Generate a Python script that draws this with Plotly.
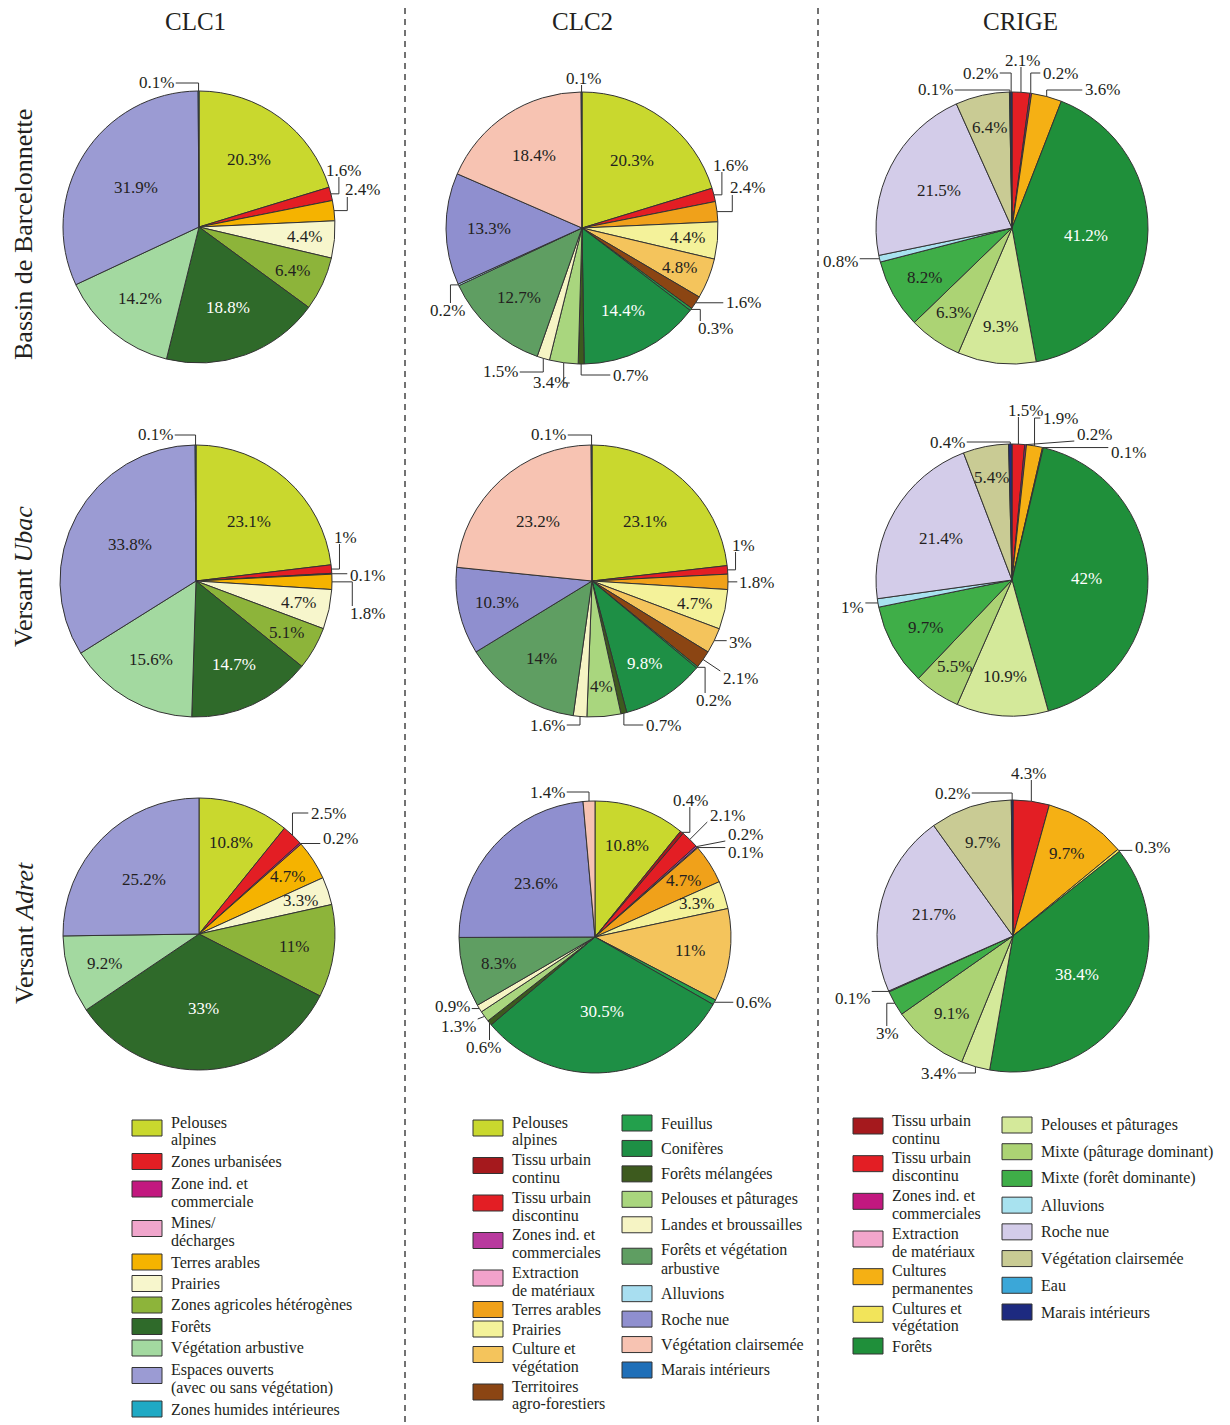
import math
import plotly.graph_objects as go

W, H = 1230, 1425

# ======================= DATA =======================
# Category names ("|" marks a line break in the legend)
CLC1_CATS = ["Pelouses|alpines", "Zones urbanisées", "Zone ind. et|commerciale", "Mines/|décharges",
             "Terres arables", "Prairies", "Zones agricoles hétérogènes", "Forêts",
             "Végétation arbustive", "Espaces ouverts|(avec ou sans végétation)",
             "Zones humides intérieures"]
CLC1_BASSIN = [20.3, 1.6, 0, 0, 2.4, 4.4, 6.4, 18.8, 14.2, 31.9, 0.1]
CLC1_UBAC = [23.1, 1.0, 0.1, 0, 1.8, 4.7, 5.1, 14.7, 15.6, 33.8, 0.1]
CLC1_ADRET = [10.8, 2.5, 0.2, 0, 4.7, 3.3, 11.0, 33.0, 9.2, 25.2, 0]

CLC2_CATS = ["Pelouses|alpines", "Tissu urbain|continu", "Tissu urbain|discontinu",
             "Zones ind. et|commerciales", "Extraction|de matériaux", "Terres arables", "Prairies",
             "Culture et|végétation", "Territoires|agro-forestiers", "Feuillus", "Conifères",
             "Forêts mélangées", "Pelouses et pâturages", "Landes et broussailles",
             "Forêts et végétation|arbustive", "Alluvions", "Roche nue", "Végétation clairsemée",
             "Marais intérieurs"]
CLC2_BASSIN = [20.3, 0, 1.6, 0, 0, 2.4, 4.4, 4.8, 1.6, 0.3, 14.4, 0.7, 3.4, 1.5, 12.7, 0.2, 13.3, 18.4, 0.1]
CLC2_UBAC = [23.1, 0, 1.0, 0, 0, 1.8, 4.7, 3.0, 2.1, 0.2, 9.8, 0.7, 4.0, 1.6, 14.0, 0, 10.3, 23.2, 0.1]
CLC2_ADRET = [10.8, 0.4, 2.1, 0.2, 0.1, 4.7, 3.3, 11.0, 0, 0.6, 30.5, 0.6, 1.3, 0.9, 8.3, 0, 23.6, 1.4, 0]

CRIGE_CATS = ["Tissu urbain|continu", "Tissu urbain|discontinu", "Zones ind. et|commerciales",
              "Extraction|de matériaux", "Cultures|permanentes", "Cultures et|végétation", "Forêts",
              "Pelouses et pâturages", "Mixte (pâturage dominant)", "Mixte (forêt dominante)",
              "Alluvions", "Roche nue", "Végétation clairsemée", "Eau", "Marais intérieurs"]
CRIGE_BASSIN = [0, 2.1, 0.2, 0, 3.6, 0, 41.2, 9.3, 6.3, 8.2, 0.8, 21.5, 6.4, 0.1, 0.2]
CRIGE_UBAC = [0, 1.5, 0.2, 0, 1.9, 0.1, 42.0, 10.9, 5.5, 9.7, 1.0, 21.4, 5.4, 0, 0.4]
CRIGE_ADRET = [0, 4.3, 0, 0, 9.7, 0.3, 38.4, 3.4, 9.1, 3.0, 0.1, 21.7, 9.7, 0, 0.2]

COLUMN_TITLES = ["CLC1", "CLC2", "CRIGE"]
ROW_TITLES = ["Bassin de Barcelonnette", "Versant <i>Ubac</i>", "Versant <i>Adret</i>"]

# ======================= STYLE =======================
FONT = "Liberation Serif"
TXT = "#231f20"
EDGE = "#333333"
OFF = 8  # page body margin of the exported html

CLC1_COLORS = ["#c9d82e", "#e31e24", "#c2187f", "#f0a6cc", "#f5b300", "#f7f6cc", "#8db43a",
               "#2f6a2a", "#a3d9a0", "#9b9bd3", "#1fa9c4"]
CLC2_COLORS = ["#c9d82e", "#a5191d", "#e31e24", "#b83a9e", "#f2a2cb", "#f0a11a", "#f4f29a",
               "#f4c45c", "#8b4513", "#23a04c", "#1e8f45", "#3d5a1e", "#a9d67e", "#f6f4c4",
               "#5f9e62", "#a8def0", "#8f8fcf", "#f7c3b2", "#1f6fb8"]
CRIGE_COLORS = ["#a5191d", "#e31e24", "#c2187f", "#f2a6cc", "#f5b014", "#f2e45a", "#1f8f3a",
                "#d4e99a", "#acd374", "#3fae48", "#a8e2ef", "#d3cce9", "#c9cb94", "#3ba7d8",
                "#1d2a80"]

R = 136
CENTERS = {(0, 0): (199, 227), (1, 0): (196, 581), (2, 0): (199, 934),
           (0, 1): (582, 228), (1, 1): (592, 581), (2, 1): (595, 937),
           (0, 2): (1012, 228), (1, 2): (1012, 580), (2, 2): (1013, 936)}

# outside labels: category -> (text dx, text dy from pie centre, leader mode)
OUTSIDE = {
    (0, 0): {"Zones humides intérieures": (-43, -144, "v"), "Zones urbanisées": (144, -57, "h"),
             "Terres arables": (163, -37, "h")},
    (1, 0): {"Zones humides intérieures": (-41, -146, "v"), "Zones urbanisées": (149, -44, "h"),
             "Zone ind. et commerciale": (171, -6, "s"), "Terres arables": (171, 32, "h")},
    (2, 0): {"Zones urbanisées": (129, -121, "v"), "Zone ind. et commerciale": (141, -96, "s")},
    (0, 1): {"Marais intérieurs": (1, -150, "s"), "Tissu urbain discontinu": (148, -63, "h"),
             "Terres arables": (165, -40, "h"), "Territoires agro-forestiers": (161, 75, "s"),
             "Feuillus": (133, 100, "h"), "Forêts mélangées": (48, 147, "v"),
             "Pelouses et pâturages": (-32, 155, "v"), "Landes et broussailles": (-82, 144, "v"),
             "Alluvions": (-135, 82, "h")},
    (1, 1): {"Marais intérieurs": (-44, -146, "v"), "Tissu urbain discontinu": (151, -36, "h"),
             "Terres arables": (165, 1, "s"), "Culture et végétation": (148, 61, "s"),
             "Territoires agro-forestiers": (148, 97, "s"), "Feuillus": (121, 119, "h"),
             "Forêts mélangées": (71, 144, "v"), "Landes et broussailles": (-45, 144, "v")},
    (2, 1): {"Végétation clairsemée": (-48, -145, "v"), "Tissu urbain continu": (95, -137, "h"),
             "Tissu urbain discontinu": (132, -122, "s"), "Zones ind. et commerciales": (150, -103, "s"),
             "Extraction de matériaux": (150, -84, "s"), "Feuillus": (158, 66, "s"),
             "Landes et broussailles": (-143, 69, "s"), "Pelouses et pâturages": (-137, 89, "s"),
             "Forêts mélangées": (-112, 110, "s")},
    (0, 2): {"Eau": (-77, -138, "v"), "Marais intérieurs": (-32, -155, "v"),
             "Tissu urbain discontinu": (10, -168, "s"), "Zones ind. et commerciales": (48, -155, "v"),
             "Cultures permanentes": (90, -138, "v"), "Alluvions": (-172, 34, "s")},
    (1, 2): {"Marais intérieurs": (-65, -138, "v"), "Tissu urbain discontinu": (13, -170, "s"),
             "Cultures permanentes": (48, -162, "v"), "Zones ind. et commerciales": (82, -146, "s"),
             "Cultures et végétation": (116, -128, "s"), "Alluvions": (-160, 27, "s")},
    (2, 2): {"Marais intérieurs": (-61, -143, "v"), "Tissu urbain discontinu": (15, -163, "s"),
             "Cultures et végétation": (139, -88, "s"), "Alluvions": (-161, 62, "s"),
             "Mixte (forêt dominante)": (-126, 97, "h"), "Pelouses et pâturages": (-75, 137, "v")},
}

LABEL_SIZE = 17
LEGEND_SIZE = 16
LINE_GAP = 18        # between the two lines of one legend entry
MIN_ITEM_GAP = 19    # minimum spacing between consecutive legend entries
SWATCH_H = 16

# legend columns: (swatch left x, first entry line y, last entry line y, category index range)
LEGENDS = [
    [(132, 1122, 1409, range(0, 11))],
    [(473, 1122, 1404, range(0, 9)), (622, 1123, 1370, range(9, 19))],
    [(853, 1120, 1346, range(0, 7)), (1002, 1125, 1312, range(7, 15))],
]


def name(cat):
    return cat.replace("/|", "/").replace("|", " ")


def px(x):
    return (x - OFF) / W


def py(y):
    return 1 - (y - OFF) / H


def text_width(s, size):
    w = 0
    for ch in s:
        if ch.isdigit():
            w += 0.5
        elif ch == ".":
            w += 0.25
        elif ch == "%":
            w += 0.833
        else:
            w += 0.5
    return w * size


def luminance(hexc):
    r, g, b = (int(hexc[i:i + 2], 16) / 255 for i in (1, 3, 5))
    return 0.2126 * r + 0.7152 * g + 0.0722 * b


columns = [
    (CLC1_CATS, CLC1_COLORS, [CLC1_BASSIN, CLC1_UBAC, CLC1_ADRET]),
    (CLC2_CATS, CLC2_COLORS, [CLC2_BASSIN, CLC2_UBAC, CLC2_ADRET]),
    (CRIGE_CATS, CRIGE_COLORS, [CRIGE_BASSIN, CRIGE_UBAC, CRIGE_ADRET]),
]

fig = go.Figure()
annotations = []
shapes = []


def add_text(x, y, text, size, color=TXT, xanchor="center", yanchor="middle", textangle=0):
    annotations.append(dict(x=px(x), y=py(y), xref="paper", yref="paper", text=text,
                            showarrow=False, xanchor=xanchor, yanchor=yanchor,
                            textangle=textangle, borderpad=0,
                            font=dict(family=FONT, size=size, color=color)))


def add_path(points):
    d = "M " + " L ".join(f"{px(x)},{py(y)}" for x, y in points)
    shapes.append(dict(type="path", xref="paper", yref="paper", path=d, layer="above",
                       line=dict(color=EDGE, width=1)))


for col, (cats, colors, series) in enumerate(columns):
    for row, vals in enumerate(series):
        cx, cy = CENTERS[(row, col)]
        labs = [name(c) for c, v in zip(cats, vals) if v > 0]
        vv = [v for v in vals if v > 0]
        cc = [colors[i] for i, v in enumerate(vals) if v > 0]
        fig.add_trace(go.Pie(
            labels=labs, values=vv, sort=False, direction="clockwise", rotation=0,
            marker=dict(colors=cc, line=dict(color=EDGE, width=1)),
            textinfo="none", hoverinfo="label+value", showlegend=False,
            domain=dict(x=[px(cx - R), px(cx + R)], y=[py(cy + R), py(cy - R)]),
        ))
        total = sum(vv)
        cum = 0.0
        outs = OUTSIDE.get((row, col), {})
        for lab, v, c in zip(labs, vv, cc):
            mid = (cum + v / 2) / total
            cum += v
            th = 2 * math.pi * mid
            txt = f"{v:g}%"
            if lab in outs:
                dx, dy, mode = outs[lab]
                tx, ty = cx + dx, cy + dy
                add_text(tx, ty, txt, LABEL_SIZE)
                P = (cx + R * math.sin(th), cy - R * math.cos(th))
                w = text_width(txt, LABEL_SIZE)
                x0, x1 = tx - w / 2 - 2, tx + w / 2 + 2
                y0, y1 = ty - 7, ty + 7
                if mode == "v":
                    ex = x1 if tx < P[0] else x0
                    add_path([P, (P[0], ty), (ex, ty)])
                elif mode == "h":
                    sgn = 1 if tx > P[0] else -1
                    ex = min(max(P[0] + sgn * 8, x0 + 5), x1 - 5)
                    ey = y1 if ty < P[1] else y0
                    add_path([P, (ex, P[1]), (ex, ey)])
                else:
                    qx = min(max(P[0], x0), x1)
                    qy = min(max(P[1], y0), y1)
                    add_path([P, (qx, qy)])
            else:
                f = max(0.55, 0.82 - 0.01 * v)
                lx = cx + f * R * math.sin(th)
                ly = cy - f * R * math.cos(th)
                tc = "white" if luminance(c) < 0.5 else TXT
                add_text(lx, ly, txt, LABEL_SIZE, color=tc)

# legends
for col, (cats, colors, _) in enumerate(columns):
    for sx, ystart, yend, idxs in LEGENDS[col]:
        idxs = list(idxs)
        nlines = [len(cats[i].split("|")) for i in idxs]
        extra = sum(n - 1 for n in nlines) * LINE_GAP
        step = max(MIN_ITEM_GAP, (yend - ystart - extra) / max(1, len(idxs) - 1))
        y = ystart
        for i, n in zip(idxs, nlines):
            lines = cats[i].split("|")
            yc = y + (6 if n > 1 else 0)
            shapes.append(dict(type="rect", xref="paper", yref="paper",
                               x0=px(sx), x1=px(sx + 30), y0=py(yc + SWATCH_H / 2),
                               y1=py(yc - SWATCH_H / 2),
                               fillcolor=colors[i], line=dict(color=EDGE, width=1), layer="above"))
            for k, ln in enumerate(lines):
                add_text(sx + 38, y + k * LINE_GAP, ln, LEGEND_SIZE, xanchor="left")
            y += (n - 1) * LINE_GAP + step

# column titles, row titles
for x, t in zip([195, 582, 1020], COLUMN_TITLES):
    add_text(x, 22, t, 25)
for y, t in zip([235, 577, 933], ROW_TITLES):
    add_text(24, y, t, 26, textangle=-90)

# dashed separators
for x in (405, 818):
    shapes.append(dict(type="line", xref="paper", yref="paper", x0=px(x), x1=px(x), y0=0, y1=1,
                       line=dict(color="#444444", width=1.5, dash="6px,5px"), layer="above"))

fig.update_layout(width=W, height=H, margin=dict(l=0, r=0, t=0, b=0),
                  paper_bgcolor="white", plot_bgcolor="white",
                  annotations=annotations, shapes=shapes, showlegend=False)
fig.write_html("out.html")
